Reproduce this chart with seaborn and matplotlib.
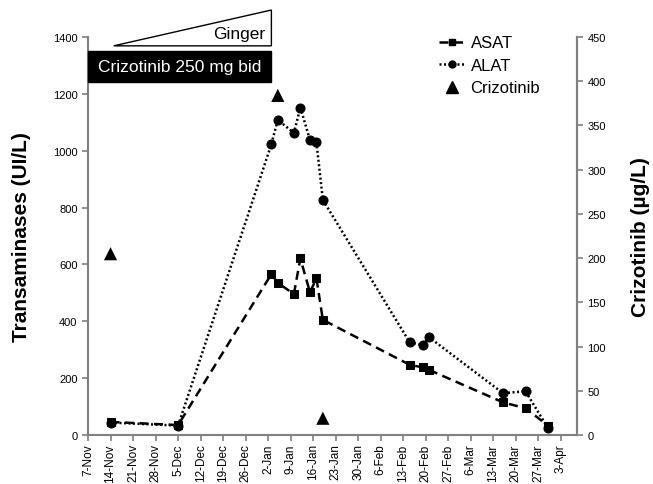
import pandas as pd
import matplotlib
matplotlib.use("Agg")
import matplotlib.pyplot as plt
import matplotlib.dates as mdates
from matplotlib.lines import Line2D
from matplotlib.patches import Rectangle, Polygon
import seaborn as sns

# transaminase measurements (UI/L)
lab_dates = ["2012-11-14", "2012-12-05", "2013-01-03", "2013-01-05", "2013-01-10",
             "2013-01-12", "2013-01-15", "2013-01-17", "2013-01-19", "2013-02-15",
             "2013-02-19", "2013-02-21", "2013-03-16", "2013-03-23", "2013-03-30"]
asat = [46, 35, 566, 535, 496, 621, 502, 551, 405, 247, 238, 229, 115, 94, 33]
alat = [44, 33, 1023, 1109, 1062, 1152, 1038, 1030, 827, 326, 316, 344, 147, 154, 24]

# crizotinib plasma levels (µg/L)
crizo_dates = ["2012-11-14", "2013-01-05", "2013-01-19"]
crizo = [205, 384, 19]

tick_dates = pd.date_range("2012-11-07", "2013-04-03", freq="7D")
tick_labels = ["7-Nov", "14-Nov", "21-Nov", "28-Nov", "5-Dec", "12-Dec", "19-Dec",
               "26-Dec", "2-Jan", "9-Jan", "16-Jan", "23-Jan", "30-Jan", "6-Feb",
               "13-Feb", "20-Feb", "27-Feb", "6-Mar", "13-Mar", "20-Mar", "27-Mar", "3-Apr"]

df = pd.DataFrame({"date": pd.to_datetime(lab_dates), "ASAT": asat, "ALAT": alat})
dc = pd.DataFrame({"date": pd.to_datetime(crizo_dates), "Crizotinib": crizo})

sns.set_style("ticks")
plt.rcParams["font.family"] = ["Liberation Sans", "DejaVu Sans"]
plt.rcParams["text.color"] = "black"
plt.rcParams["axes.labelcolor"] = "black"

fig, ax = plt.subplots(figsize=(6.53, 4.85), dpi=100)
fig.subplots_adjust(left=0.1348, right=0.8836, bottom=0.101, top=0.9216)
ax2 = ax.twinx()

sns.lineplot(data=df, x="date", y="ASAT", ax=ax, color="black", marker="s",
             markersize=6, markeredgecolor="black", linewidth=1.8,
             linestyle=(0, (3.6, 2.2)))
sns.lineplot(data=df, x="date", y="ALAT", ax=ax, color="black", marker="o",
             markersize=6.5, markeredgecolor="black", linewidth=1.8,
             linestyle=(0, (0.8, 1.0)))
sns.scatterplot(data=dc, x="date", y="Crizotinib", ax=ax2, color="black",
                marker="^", s=90, edgecolor="none", zorder=5)

x0 = pd.Timestamp("2012-11-07")
ax.set_xlim(x0, pd.Timestamp("2013-04-08"))
ax.set_ylim(0, 1400)
ax2.set_ylim(0, 450)
ax.set_yticks(range(0, 1401, 200))
ax2.set_yticks(range(0, 451, 50))
ax.set_xticks(tick_dates)
ax.set_xticklabels(tick_labels, rotation=90, fontsize=8.5)
ax.tick_params(axis="x", pad=2)
ax.tick_params(axis="y", labelsize=8)
ax2.tick_params(axis="y", labelsize=8)

ax.set_xlabel("")
ax.set_ylabel("Transaminases (UI/L)", fontsize=15, fontweight="bold", labelpad=16)
ax2.set_ylabel("Crizotinib (µg/L)", fontsize=15, fontweight="bold", labelpad=18)

grey = "#808080"
for a in (ax, ax2):
    a.spines["top"].set_visible(False)
    for s in ("left", "right", "bottom"):
        a.spines[s].set_color(grey)
        a.spines[s].set_linewidth(1.5)
    a.tick_params(colors=grey, labelcolor="black", length=4, width=1.2)
ax2.spines["left"].set_visible(False)
ax2.spines["bottom"].set_visible(False)

# treatment annotations
d = lambda s: mdates.date2num(pd.Timestamp(s))
ax.add_patch(Rectangle((d("2012-11-07"), 1242), d("2013-01-03") - d("2012-11-07"), 109,
                       facecolor="black", edgecolor="black", clip_on=False, zorder=6))
ax.text((d("2012-11-07") + d("2013-01-03")) / 2, 1297, "Crizotinib 250 mg bid",
        color="white", fontsize=12.5, ha="center", va="center", zorder=7)
ax.add_patch(Polygon([(d("2012-11-15"), 1369), (d("2013-01-03"), 1495), (d("2013-01-03"), 1369)],
                     closed=True, facecolor="white", edgecolor="black", linewidth=1,
                     clip_on=False, zorder=6))
ax.text(d("2013-01-01"), 1412, "Ginger", fontsize=12.5, ha="right", va="center", zorder=7)

handles = [
    Line2D([], [], color="black", marker="s", markersize=5, linewidth=1.8, linestyle=(0, (3.6, 2.2))),
    Line2D([], [], color="black", marker="o", markersize=5, linewidth=1.8, linestyle=(0, (0.8, 1.0))),
    Line2D([], [], color="black", marker="^", markersize=8, linestyle="none"),
]
ax2.legend(handles, ["ASAT", "ALAT", "Crizotinib"], loc="upper left",
           bbox_to_anchor=(0.672, 0.925), bbox_transform=fig.transFigure,
           frameon=False, fontsize=12, numpoints=1, handlelength=1.6,
           handletextpad=0.3, labelspacing=0.45, borderpad=0, borderaxespad=0)

fig.savefig("out.png", dpi=100)
